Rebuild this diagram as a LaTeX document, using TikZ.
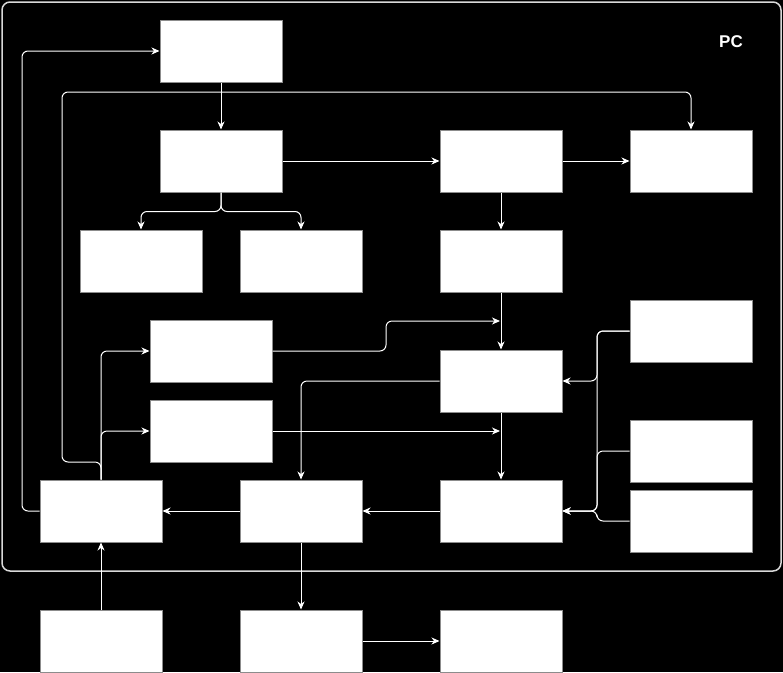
\documentclass[tikz,border=0pt]{standalone}
\usepackage{fontspec}
\setmainfont{Liberation Sans}
\usetikzlibrary{arrows.meta}
\definecolor{bord}{HTML}{8C8C8C}
\begin{document}
\begin{tikzpicture}[x=1pt,y=-1pt,
  box/.style={draw=bord, fill=white, line width=1pt, inner sep=0pt, minimum width=122pt, minimum height=62pt},
  arr/.style={draw=white, line width=1pt, rounded corners=6pt, -{Stealth[length=8pt,width=7pt,inset=2.5pt]}},
  ln/.style={draw=white, line width=1pt, rounded corners=6pt}]
\fill[black] (0,0) rectangle (783,672);
\useasboundingbox (0,0) rectangle (783,672);
\draw[white!85!black, line width=1.5pt, rounded corners=8pt] (2,2) rectangle (781,571);
\node[text=white, font=\fontsize{17}{20}\selectfont\bfseries] (pc) at (731,42) {PC};
\node[box] (A) at (221,51) {};
\node[box] (B) at (221,161) {};
\node[box] (C) at (501,161) {};
\node[box] (D) at (691,161) {};
\node[box] (E) at (141,261) {};
\node[box] (F) at (301,261) {};
\node[box] (G) at (501,261) {};
\node[box] (H) at (211,351) {};
\node[box] (I) at (211,431) {};
\node[box] (J) at (501,381) {};
\node[box] (K) at (691,331) {};
\node[box] (L) at (691,451) {};
\node[box] (M) at (691,521) {};
\node[box] (N) at (101,511) {};
\node[box] (O) at (301,511) {};
\node[box] (P) at (501,511) {};
\node[box] (Q) at (101,641) {};
\node[box] (R) at (301,641) {};
\node[box] (S) at (501,641) {};
\coordinate (hj) at (500,321);
\coordinate (ij) at (500,431);
\draw[arr] (A.south) -- (B.north);
\draw[arr] (B.east) -- (C.west);
\draw[arr] (C.east) -- (D.west);
\draw[arr] (B.south) -- ++(0,19) -| (E.north);
\draw[arr] (B.south) -- ++(0,19) -| (F.north);
\draw[arr] (C.south) -- (G.north);
\draw[arr] (G.south) -- (J.north);
\draw[arr] (H.east) -- (386,351) -- (386,321) -- (hj);
\draw[arr] (J.west) -| (O.north);
\draw[arr] (I.east) -- (ij);
\draw[arr] (J.south) -- (P.north);
\draw[arr] (K.west) -- (597,331) -- (597,381) -- (J.east);
\draw[arr] (K.west) -- (597,331) -- (597,511) -- (P.east);
\draw[arr] (L.west) -- (597,451) -- (597,511) -- (P.east);
\draw[arr] (M.west) -- (597,521) -- (597,511) -- (P.east);
\draw[arr] (P.west) -- (O.east);
\draw[arr] (O.west) -- (N.east);
\draw[arr] (N.west) -- (22,511) -- (22,51) -- (A.west);
\draw[arr] (N.north) -- (101,462) -- (62,462) -- (62,92) -- (691,92) -- (D.north);
\draw[arr] (N.north) |- (I.west);
\draw[arr] (N.north) |- (H.west);
\draw[arr] (Q.north) -- (N.south);
\draw[arr] (O.south) -- (R.north);
\draw[arr] (R.east) -- (S.west);
\end{tikzpicture}
\end{document}
